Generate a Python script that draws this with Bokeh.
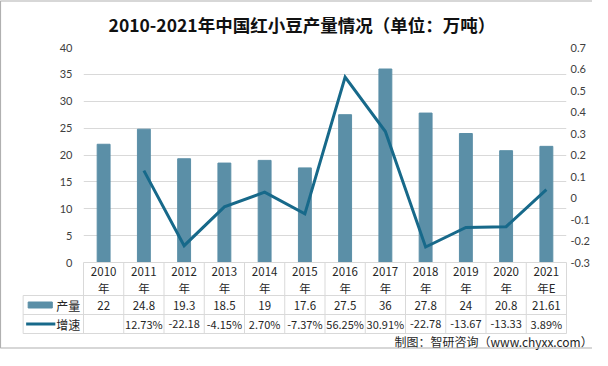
from bokeh.plotting import figure
from bokeh.models import Range1d, LinearAxis, FixedTicker, CustomJSTickFormatter
from bokeh.embed import file_html
from bokeh.resources import INLINE
from bokeh.core.properties import value

# ---------------- data ----------------
years = ["2010年", "2011年", "2012年", "2013年", "2014年", "2015年",
         "2016年", "2017年", "2018年", "2019年", "2020年", "2021年E"]
production = [22, 24.8, 19.3, 18.5, 19, 17.6, 27.5, 36, 27.8, 24, 20.8, 21.61]
growth = [float("nan"), 0.1273, -0.2218, -0.0415, 0.0270, -0.0737,
          0.5625, 0.3091, -0.2278, -0.1367, -0.1333, 0.0389]
growth_labels = ["", "12.73%", "-22.18", "-4.15%", "2.70%", "-7.37%",
                 "56.25%", "30.91%", "-22.78", "-13.67", "-13.33", "3.89%"]
left_ticks = [0, 5, 10, 15, 20, 25, 30, 35, 40]
right_ticks = [-0.3, -0.2, -0.1, 0, 0.1, 0.2, 0.3, 0.4, 0.5, 0.6, 0.7]
series_names = ["产量", "增速"]
title_text = "2010-2021年中国红小豆产量情况（单位：万吨）"
source_text = "制图：智研咨询（www.chyxx.com）"

BAR_COLOR = "#5b8fa7"
LINE_COLOR = "#17698a"
GRID = "#d9d9d9"
TXT = "#404040"
DARK = "#262626"
CJK = value("Noto Sans CJK SC")

n = len(years)
idx = list(range(n))
W, H = 592, 350
FL, FR, FT, FB = 83, 25, 47, 88
FBOT = H - FB                   # frame bottom in px

p = figure(width=W, height=H, x_range=Range1d(-0.5, n - 0.5), y_range=Range1d(0, 40),
           x_axis_type=None, output_backend="svg", toolbar_location=None,
           min_border_left=FL, min_border_right=FR, min_border_top=FT, min_border_bottom=FB)
p.outline_line_color = None
p.extra_y_ranges = {"right": Range1d(-0.3, 0.7), "px": Range1d(start=FBOT, end=FT)}

ya = p.yaxis[0]
ya.ticker = FixedTicker(ticks=left_ticks)
p.ygrid.ticker = FixedTicker(ticks=left_ticks)
p.ygrid.grid_line_color = GRID

ra = LinearAxis(y_range_name="right", ticker=FixedTicker(ticks=right_ticks),
                formatter=CustomJSTickFormatter(code="return String(Math.round(tick*10)/10);"))
p.add_layout(ra, "right")
for ax in (ya, ra):
    ax.axis_line_color = None
    ax.major_tick_line_color = None
    ax.minor_tick_line_color = None
    ax.major_tick_out = 0
    ax.major_tick_in = 0
    ax.minor_tick_out = 0
    ax.major_label_text_font = "Lato"
    ax.major_label_text_font_size = "11px"
    ax.major_label_text_color = TXT
    ax.axis_label_standoff = 0
ya.major_label_standoff = 11
ra.major_label_standoff = 4

# actual column width: frame width after the right axis has taken its space
cw_est = (W - FL - 29) / n


def px_x(px, cw=cw_est):
    """x position (category units) of a pixel column."""
    return -0.5 + (px - FL) / cw


p.vbar(x=idx, top=production, width=0.32, color=BAR_COLOR)
p.line(x=idx, y=growth, y_range_name="right", line_color=LINE_COLOR, line_width=3,
       line_join="miter")

OV = dict(y_range_name="px", level="overlay")

# title
p.text(x=[px_x(300)], y=[24], text=[title_text], text_align="center", text_baseline="middle",
       text_font=CJK, text_font_style="bold", text_font_size="17.5px", text_color="#111111", **OV)

# ---------------- data table ----------------
L = px_x(23)
r0, r1, r2, r3 = FBOT, 295, 314, 333
hx0 = [-0.5, L, L, L]
hx1 = [n - 0.5] * 4
hy = [r0, r1, r2, r3]
p.segment(x0=hx0, y0=hy, x1=hx1, y1=hy, line_color=GRID, line_width=1, **OV)
vx = [k - 0.5 for k in range(n + 1)] + [L]
vy0 = [r0] * (n + 1) + [r1]
vy1 = [r3] * (n + 2)
p.segment(x0=vx, y0=vy0, x1=vx, y1=vy1, line_color=GRID, line_width=1, **OV)

year_num = [y[:4] for y in years]
year_suf = [y[4:] for y in years]
prod_labels = [f"{v:g}" for v in production]
common = dict(text_align="center", text_baseline="middle", text_font=CJK, text_color=DARK)
p.text(x=idx, y=[270.5] * n, text=year_num, text_font_size="11.5px", **common, **OV)
p.text(x=idx, y=[287] * n, text=year_suf, text_font_size="11.5px", **common, **OV)
p.text(x=idx, y=[305] * n, text=prod_labels, text_font_size="11.5px", **common, **OV)
p.text(x=idx, y=[323.5] * n, text=growth_labels, text_font_size="11px", **common, **OV)

# legend keys inside the table
p.rect(x=[px_x(40)], y=[304.5], width=px_x(52) - px_x(28), height=6, color=BAR_COLOR, **OV)
p.segment(x0=[px_x(26)], y0=[323.5], x1=[px_x(55)], y1=[323.5], line_color=LINE_COLOR,
          line_width=3, **OV)
p.text(x=[px_x(56)] * 2, y=[304.5, 323.5], text=series_names, text_align="left",
       text_baseline="middle", text_font=CJK, text_font_size="12px", text_color=DARK, **OV)

# source note
p.text(x=[px_x(589)], y=[340.5], text=[source_text], text_align="right", text_baseline="middle",
       text_font=CJK, text_font_size="12px", text_color=DARK, **OV)

# outer frame of the picture
p.quad(left=[px_x(0.5)], right=[px_x(W - 1)], bottom=[H - 2.5], top=[0.5],
       fill_color=None, line_color="#b0b0b0", line_width=1.2, **OV)

open("out.html", "w").write(file_html(p, INLINE))
